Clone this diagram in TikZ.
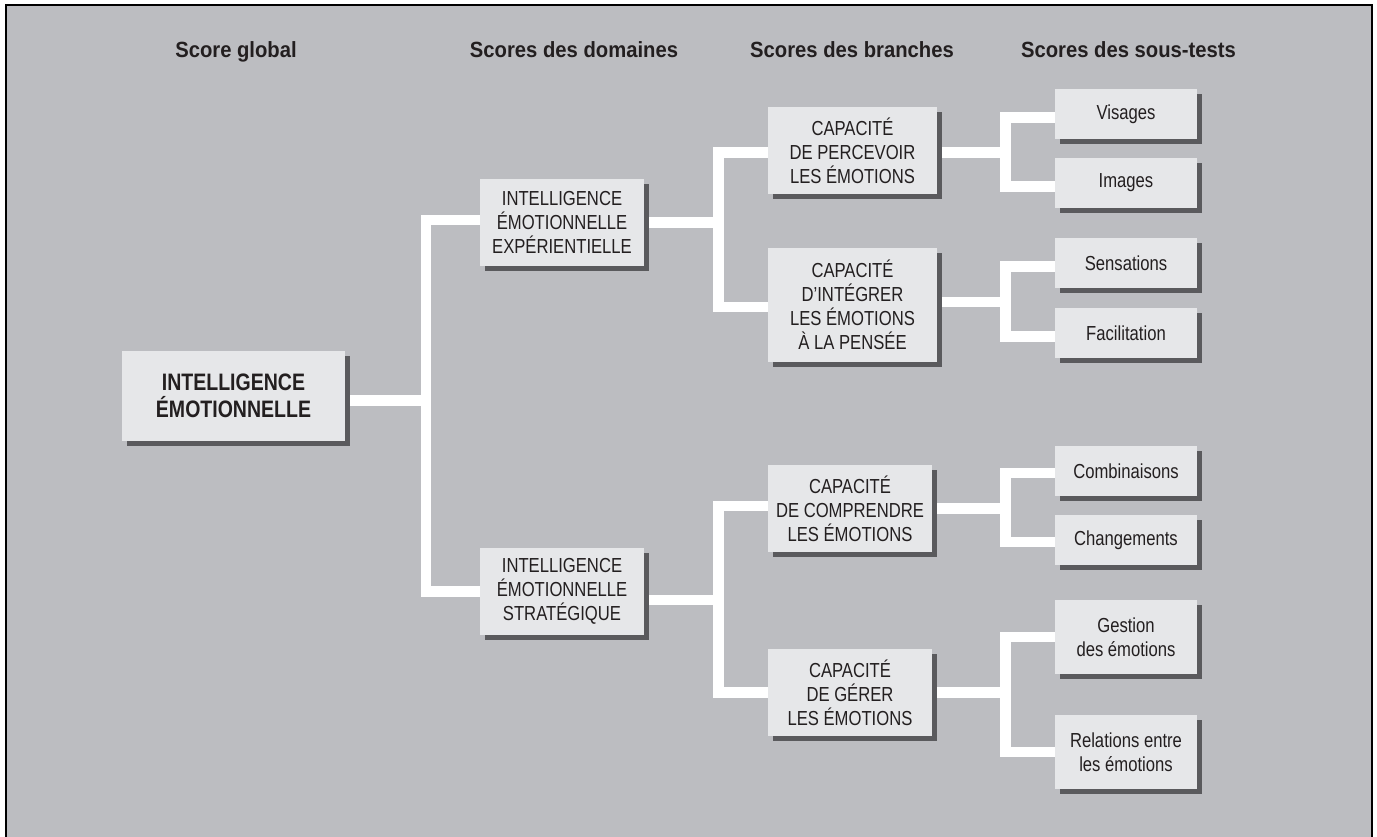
\documentclass[tikz,border=0pt]{standalone}
\usepackage{fontspec}
\newfontfamily\boxfont{Liberation Sans}[FakeStretch=0.82]
\newfontfamily\hdrfont{Liberation Sans}[FakeStretch=0.92]
\usetikzlibrary{shadows}
\definecolor{bgc}{HTML}{BCBDC1}
\definecolor{boxc}{HTML}{E6E7E9}
\definecolor{shc}{HTML}{5A5A5D}
\definecolor{txt}{HTML}{231F20}
\pgfdeclarelayer{bg}
\pgfsetlayers{bg,main}
\begin{document}
\begin{tikzpicture}[x=1pt,y=-1pt,
  box/.style={fill=boxc, text=txt, inner sep=0pt, outer sep=0pt, align=center,
    drop shadow={shadow xshift=5pt, shadow yshift=-5pt, fill=shc, opacity=1},
    font=\boxfont\fontsize{20.3}{24}\selectfont},
  mainbox/.style={box, font=\boxfont\bfseries\fontsize{23.8}{27}\selectfont},
  sz/.style 2 args={minimum width=#1, minimum height=#2},
  hdr/.style={text=txt, anchor=base, inner sep=0pt, font=\hdrfont\bfseries\fontsize{22}{24}\selectfont},
  conn/.style={draw=white, line width=10.5pt}
]
\useasboundingbox (0,0) rectangle (1377,837);

% headers
\node[hdr] (h1) at (236,58) {Score global};
\node[hdr] (h2) at (574,58) {Scores des domaines};
\node[hdr] (h3) at (852,58) {Scores des branches};
\node[hdr] (h4) at (1128.5,58) {Scores des sous-tests};

% boxes
\node[mainbox, sz={223pt}{90pt}] (main) at (233.5,396) {INTELLIGENCE\\ÉMOTIONNELLE};

\node[box, sz={164pt}{87pt}] (exp) at (562,222.5) {INTELLIGENCE\\ÉMOTIONNELLE\\EXPÉRIENTIELLE};
\node[box, sz={164pt}{87pt}] (strat) at (562,591.5) {INTELLIGENCE\\ÉMOTIONNELLE\\STRATÉGIQUE};

\node[box, sz={169pt}{87pt}] (perc) at (852.5,150.5) {CAPACITÉ\\DE PERCEVOIR\\LES ÉMOTIONS};
\node[box, sz={169pt}{114pt}] (integ) at (852.5,305) {CAPACITÉ\\D’INTÉGRER\\LES ÉMOTIONS\\À LA PENSÉE};
\node[box, sz={164pt}{87pt}] (compr) at (850,508.5) {CAPACITÉ\\DE COMPRENDRE\\LES ÉMOTIONS};
\node[box, sz={164pt}{87pt}] (gerer) at (850,692.5) {CAPACITÉ\\DE GÉRER\\LES ÉMOTIONS};

\node[box, sz={142pt}{50pt}] (vis) at (1126,114) {Visages};
\node[box, sz={142pt}{50pt}] (img) at (1126,183) {Images};
\node[box, sz={142pt}{50pt}] (sens) at (1126,263) {Sensations};
\node[box, sz={142pt}{50pt}] (fac) at (1126,333) {Facilitation};
\node[box, sz={142pt}{50pt}] (comb) at (1126,471) {Combinaisons};
\node[box, sz={142pt}{50pt}] (chg) at (1126,540) {Changements};
\node[box, sz={142pt}{74pt}] (gest) at (1126,637) {Gestion\\des émotions};
\node[box, sz={142pt}{74pt}] (rel) at (1126,752) {Relations entre\\les émotions};

% junction columns
\coordinate (jx1) at (426,0);
\coordinate (jx2) at (718.5,0);
\coordinate (jx3) at (1005.5,0);

% connection points
\path ([yshift=-4.5pt]main.east) coordinate (main-o)
      ([yshift=2.5pt]exp.west) coordinate (exp-i)
      (strat.west) coordinate (strat-i)
      (exp.east) coordinate (exp-o)
      ([yshift=-8.5pt]strat.east) coordinate (strat-o)
      ([yshift=-2pt]perc.west) coordinate (perc-i)
      ([yshift=-2pt]integ.west) coordinate (integ-i)
      ([yshift=2.5pt]compr.west) coordinate (compr-i)
      (gerer.west) coordinate (gerer-i)
      ([yshift=-2pt]perc.east) coordinate (perc-o)
      ([yshift=3pt]integ.east) coordinate (integ-o)
      (compr.east) coordinate (compr-o)
      (gerer.east) coordinate (gerer-o)
      ([yshift=-3.5pt]vis.west) coordinate (vis-i)
      ([yshift=-3.5pt]img.west) coordinate (img-i)
      ([yshift=-3.5pt]sens.west) coordinate (sens-i)
      ([yshift=-3.5pt]fac.west) coordinate (fac-i)
      ([yshift=-2pt]comb.west) coordinate (comb-i)
      ([yshift=-2pt]chg.west) coordinate (chg-i)
      (gest.west) coordinate (gest-i)
      (rel.west) coordinate (rel-i);

\begin{pgfonlayer}{bg}
  % background and frame
  \fill[white] (0,0) rectangle (1377,837);
  \fill[bgc] (6,5) rectangle (1372,837);
  \draw[black, line width=1.6pt] (6,837) -- (6,5) -- (1372,5) -- (1372,837);
  % connectors
  \draw[conn] (main-o) -- (main-o -| jx1);
  \draw[conn] (exp-i) -| (jx1 |- strat-i) -- (strat-i);

  \draw[conn] (exp-o) -- (exp-o -| jx2);
  \draw[conn] (perc-i) -| (jx2 |- integ-i) -- (integ-i);
  \draw[conn] (strat-o) -- (strat-o -| jx2);
  \draw[conn] (compr-i) -| (jx2 |- gerer-i) -- (gerer-i);

  \draw[conn] (perc-o) -- (perc-o -| jx3);
  \draw[conn] (vis-i) -| (jx3 |- img-i) -- (img-i);
  \draw[conn] (integ-o) -- (integ-o -| jx3);
  \draw[conn] (sens-i) -| (jx3 |- fac-i) -- (fac-i);
  \draw[conn] (compr-o) -- (compr-o -| jx3);
  \draw[conn] (comb-i) -| (jx3 |- chg-i) -- (chg-i);
  \draw[conn] (gerer-o) -- (gerer-o -| jx3);
  \draw[conn] (gest-i) -| (jx3 |- rel-i) -- (rel-i);
\end{pgfonlayer}
\end{tikzpicture}
\end{document}
